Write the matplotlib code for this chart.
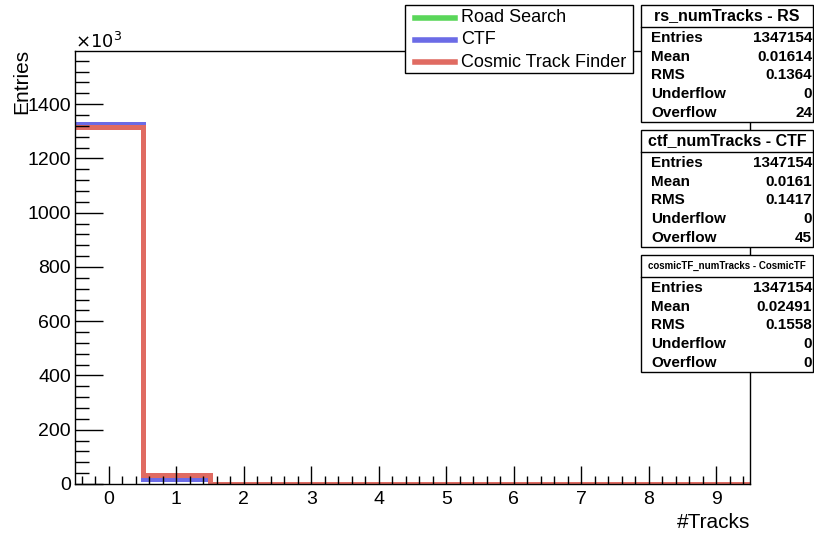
import matplotlib
matplotlib.use("Agg")
import matplotlib.pyplot as plt
from matplotlib.patches import Rectangle
from matplotlib.lines import Line2D
import numpy as np

plt.rcParams['font.family'] = ['Liberation Sans', 'DejaVu Sans']

# data: number of events per #tracks bin (0..9)
bins = np.arange(10)
rs_counts = [1326000, 20500, 600, 30, 0, 0, 0, 0, 0, 0]
ctf_counts = [1326400, 19800, 900, 40, 0, 0, 0, 0, 0, 0]
cosmic_counts = [1314400, 32000, 750, 0, 0, 0, 0, 0, 0, 0]
labels = ["Road Search", "CTF", "Cosmic Track Finder"]
colors = ["#5ad65a", "#6b6be6", "#e06b62"]

stat_titles = ["rs_numTracks - RS", "ctf_numTracks - CTF", "cosmicTF_numTracks - CosmicTF"]
stat_names = ["Entries", "Mean", "RMS", "Underflow", "Overflow"]
stat_values = [
    ["1347154", "0.01614", "0.1364", "0", "24"],
    ["1347154", "0.0161", "0.1417", "0", "45"],
    ["1347154", "0.02491", "0.1558", "0", "0"],
]

W, H = 814, 534
fig = plt.figure(figsize=(W / 100, H / 100), dpi=100)
ax = fig.add_axes([75 / W, 1 - 484 / H, 675 / W, 433 / H])

edges = np.append(bins - 0.5, bins[-1] + 0.5)
for counts, c in zip([rs_counts, ctf_counts, cosmic_counts], colors):
    ax.stairs(np.array(counts) / 1000.0, edges, baseline=None, color=c, linewidth=3.6)

ax.set_xlim(-0.5, 9.5)
ax.set_ylim(0, 1596)
ax.set_xticks(bins)
ax.set_xticks(np.arange(-0.4, 9.5, 0.2), minor=True)
ax.set_yticks(np.arange(0, 1500, 200))
ax.set_yticks(np.arange(0, 1596, 40), minor=True)
ax.tick_params(axis='both', which='both', direction='in', top=False, right=False,
               labelsize=14, width=1)
ax.tick_params(axis='y', which='major', length=20, pad=3)
ax.tick_params(axis='y', which='minor', length=10)
ax.tick_params(axis='x', which='major', length=13, pad=5)
ax.tick_params(axis='x', which='minor', length=6)
for s in ax.spines.values():
    s.set_linewidth(1)

fig.text(750 / W, 1 - 522 / H, "#Tracks", ha='right', va='center', fontsize=15)
fig.text(22 / W, 1 - 49 / H, "Entries", ha='center', va='top', rotation=90, fontsize=15)
fig.text(75 / W, 1 - 42 / H, r"$\times10^{3}$", ha='left', va='center', fontsize=13)

# legend drawn in pixel positions
fig.patches.append(Rectangle((405 / W, 1 - 73 / H), 228 / W, 68 / H,
                             transform=fig.transFigure, facecolor='white',
                             edgecolor='black', linewidth=1, zorder=5))
for i, (lab, c) in enumerate(zip(labels, colors)):
    y = 1 - (18 + i * 22) / H
    fig.lines.append(Line2D([415 / W, 455 / W], [y, y], transform=fig.transFigure,
                            color=c, linewidth=4, zorder=6))
    fig.text(461 / W, y, lab, ha='left', va='center', fontsize=13, zorder=7)

# stat boxes
box_tops = [5, 130, 255]
x0, x1 = 641, 813
for title, vals, top in zip(stat_titles, stat_values, box_tops):
    fig.patches.append(Rectangle((x0 / W, 1 - (top + 117) / H), (x1 - x0) / W, 117 / H,
                                 transform=fig.transFigure, facecolor='white',
                                 edgecolor='black', linewidth=1, zorder=5))
    fig.lines.append(Line2D([x0 / W, x1 / W], [1 - (top + 22) / H] * 2,
                            transform=fig.transFigure, color='black', linewidth=1, zorder=6))
    tsize = 7 if len(title) > 22 else 11.5
    fig.text((x0 + x1) / 2 / W, 1 - (top + 11) / H, title, ha='center', va='center',
             fontsize=tsize, fontweight='bold', zorder=7)
    for i, (n, v) in enumerate(zip(stat_names, vals)):
        y = 1 - (top + 33 + i * 18.7) / H
        fig.text((x0 + 10) / W, y, n, ha='left', va='center', fontsize=11,
                 fontweight='bold', zorder=7)
        fig.text((x1 - 1) / W, y, v, ha='right', va='center', fontsize=11,
                 fontweight='bold', zorder=7)

fig.savefig("out.png", dpi=100)
